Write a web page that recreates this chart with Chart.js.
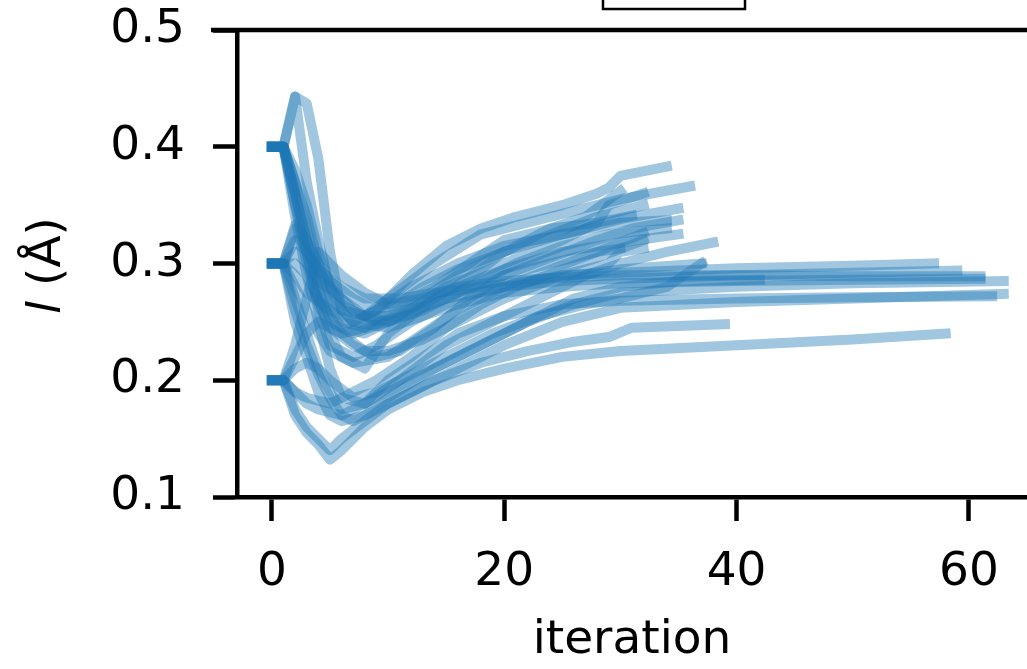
<!DOCTYPE html>
<html>
<head>
<meta charset="utf-8">
<script src="https://cdn.jsdelivr.net/npm/chart.js@4/dist/chart.umd.min.js"></script>
<style>
  html, body { margin: 0; padding: 0; background: #fff; }
  #wrap { width: 1027px; height: 669px; position: relative; }
</style>
</head>
<body>
<div id="wrap"><canvas id="c"></canvas></div>
<script>
// x tick labels and y tick labels
const xTicks = [0, 20, 40, 60];
const yTicks = [0.1, 0.2, 0.3, 0.4, 0.5];

// each run: [iteration, l] pairs
const run01 = [[0,.4],[1,.4],[2,.443],[3,.437],[4,.39],[5,.31],[6,.26],[7,.25],[9,.26],[12,.29],[15,.315],[18,.33],[21,.34],[25,.35],[28,.36],[29,.365],[30,.375],[34,.383]];
const run02 = [[0,.4],[1,.4],[2,.443],[3,.37],[4,.32],[5,.28],[6,.26],[8,.255],[10,.27],[14,.30],[18,.325],[22,.335],[26,.345],[30,.355],[36,.366]];
const run03 = [[0,.4],[1,.4],[2,.37],[3,.33],[4,.29],[5,.26],[6,.245],[8,.24],[10,.25],[13,.27],[16,.29],[20,.31],[24,.33],[27,.34],[30,.362]];
const run04 = [[0,.4],[1,.4],[2,.36],[3,.32],[4,.28],[6,.25],[8,.245],[11,.255],[15,.28],[20,.30],[25,.32],[28,.335],[29,.35],[32,.36]];
const run05 = [[0,.4],[1,.4],[2,.35],[3,.31],[4,.27],[5,.24],[6,.22],[8,.21],[10,.24],[14,.27],[18,.295],[20,.31],[25,.325],[30,.338],[35,.347]];
const run06 = [[0,.4],[1,.4],[2,.36],[3,.31],[4,.26],[5,.23],[7,.22],[9,.23],[12,.25],[16,.27],[20,.28],[25,.29],[30,.292],[40,.296],[50,.298],[57,.30]];
const run07 = [[0,.4],[1,.4],[3,.32],[4,.28],[5,.25],[7,.24],[10,.25],[15,.27],[20,.28],[25,.285],[30,.287],[40,.29],[50,.292],[59,.294]];
const run08 = [[0,.4],[1,.4],[2,.34],[3,.29],[4,.25],[5,.21],[6,.185],[8,.18],[10,.19],[14,.21],[18,.23],[22,.25],[26,.27],[30,.28],[35,.285],[42,.286]];
const run09 = [[0,.4],[1,.4],[2,.37],[3,.34],[4,.30],[5,.27],[7,.25],[9,.26],[12,.28],[16,.30],[20,.315],[25,.325],[30,.335],[34,.337]];
const run10 = [[0,.3],[1,.3],[2,.333],[3,.32],[4,.30],[5,.285],[7,.27],[9,.26],[11,.265],[14,.28],[17,.30],[20,.32],[24,.33],[28,.335],[31,.341]];
const run11 = [[0,.3],[1,.3],[2,.33],[3,.31],[5,.28],[7,.26],[9,.25],[12,.26],[15,.27],[18,.285],[21,.30],[25,.315],[29,.325],[34,.33]];
const run12 = [[0,.3],[1,.3],[2,.28],[3,.26],[4,.24],[5,.225],[7,.215],[10,.22],[13,.24],[16,.26],[20,.28],[24,.295],[28,.31],[32,.326]];
const run13 = [[0,.3],[1,.3],[2,.27],[3,.24],[4,.21],[5,.19],[6,.175],[8,.18],[11,.20],[15,.23],[19,.25],[23,.27],[27,.29],[30,.30],[34,.31],[38,.318]];
const run14 = [[0,.3],[1,.3],[2,.31],[3,.30],[4,.285],[6,.27],[8,.255],[10,.25],[13,.26],[16,.275],[20,.29],[24,.30],[28,.31],[30,.313]];
const run15 = [[0,.3],[1,.3],[2,.26],[3,.23],[4,.205],[5,.185],[6,.17],[7,.165],[9,.175],[12,.19],[16,.21],[20,.23],[25,.25],[30,.262],[40,.267],[50,.27],[63,.274]];
const run16 = [[0,.3],[1,.3],[2,.29],[3,.275],[5,.26],[7,.25],[10,.245],[13,.255],[16,.265],[20,.275],[25,.28],[30,.283],[40,.285],[50,.286],[61,.287]];
const run17 = [[0,.3],[1,.3],[2,.32],[3,.31],[4,.295],[6,.28],[8,.27],[11,.27],[14,.275],[18,.28],[22,.285],[26,.29],[30,.295],[37,.30]];
const run18 = [[0,.3],[1,.3],[2,.25],[3,.22],[4,.19],[5,.17],[6,.165],[8,.17],[10,.185],[14,.21],[18,.23],[22,.25],[26,.265],[30,.275],[40,.28],[50,.283],[63,.285]];
const run19 = [[0,.2],[1,.2],[2,.23],[3,.27],[4,.31],[5,.30],[6,.29],[8,.275],[10,.265],[13,.27],[16,.28],[20,.285],[25,.288],[30,.29],[40,.29],[50,.289],[61,.289]];
const run20 = [[0,.2],[1,.2],[2,.17],[3,.155],[4,.145],[5,.132],[6,.14],[8,.16],[10,.175],[13,.19],[16,.20],[20,.21],[25,.22],[30,.225],[40,.23],[50,.235],[58,.24]];
const run21 = [[0,.2],[1,.2],[2,.175],[3,.16],[5,.14],[6,.15],[8,.165],[10,.18],[14,.20],[18,.215],[22,.225],[26,.233],[29,.237],[31,.245],[39,.248]];
const run22 = [[0,.2],[1,.2],[2,.19],[3,.18],[4,.175],[6,.17],[8,.18],[10,.20],[13,.22],[16,.24],[20,.255],[25,.265],[30,.268],[40,.27],[50,.271],[62,.272]];
const run23 = [[0,.2],[1,.2],[2,.19],[3,.185],[5,.18],[7,.19],[9,.20],[12,.22],[15,.245],[18,.265],[21,.28],[25,.295],[28,.305],[32,.32]];
const run24 = [[0,.2],[1,.2],[2,.22],[3,.24],[4,.25],[5,.245],[7,.23],[9,.22],[11,.225],[14,.245],[17,.27],[20,.29],[24,.305],[28,.32],[31,.33],[35,.337]];
const run25 = [[0,.4],[1,.4],[2,.38],[3,.35],[4,.31],[5,.28],[6,.265],[8,.255],[10,.255],[13,.265],[16,.28],[20,.295],[25,.31],[30,.318],[35,.325]];
const run26 = [[0,.3],[1,.3],[2,.30],[3,.29],[4,.27],[6,.24],[8,.225],[10,.225],[13,.235],[16,.25],[20,.27],[25,.29],[29,.30],[30,.31],[32,.313]];
const run27 = [[0,.2],[1,.2],[2,.21],[3,.215],[4,.21],[5,.20],[7,.185],[9,.19],[12,.205],[15,.22],[19,.24],[23,.255],[27,.265],[30,.27],[34,.28],[37,.30]];
const run28 = [[0,.4],[1,.4],[2,.35],[3,.30],[4,.265],[5,.245],[6,.24],[8,.245],[10,.26],[13,.28],[16,.295],[20,.31],[24,.325],[28,.34],[32,.35]];

const runs = [run01, run02, run03, run04, run05, run06, run07, run08, run09, run10, run11, run12, run13, run14,
  run15, run16, run17, run18, run19, run20, run21, run22, run23, run24, run25, run26, run27, run28];

const lineColor = 'rgba(31,119,180,0.42)';
const fontFam = "'DejaVu Sans', sans-serif";

const datasets = runs.map((r) => ({
  data: r.map((p) => ({ x: p[0], y: p[1] })),
  borderColor: lineColor,
  borderWidth: 10,
  borderCapStyle: 'square',
  borderJoinStyle: 'round',
  pointRadius: 0,
  fill: false,
  tension: 0
}));

// top spine, y label with italic l, and the clipped box above the axes
const extras = {
  id: 'extras',
  afterDraw(chart) {
    const ctx = chart.ctx;
    const a = chart.chartArea;
    ctx.save();
    ctx.strokeStyle = '#000';
    ctx.lineWidth = 4.5;
    ctx.beginPath();
    ctx.moveTo(a.left - 26, a.top);
    ctx.lineTo(chart.width, a.top);
    ctx.stroke();

    ctx.lineWidth = 2.5;
    ctx.strokeRect(603, -10, 142, 19);

    // y label
    ctx.translate(48, (a.top + a.bottom) / 2 + 2);
    ctx.rotate(-Math.PI / 2);
    ctx.fillStyle = '#000';
    ctx.textBaseline = 'middle';
    ctx.font = 'italic 47px ' + fontFam;
    const w1 = ctx.measureText('l').width;
    ctx.font = '47px ' + fontFam;
    const w2 = ctx.measureText(' (Å)').width;
    let x0 = -(w1 + w2) / 2;
    ctx.font = 'italic 47px ' + fontFam;
    ctx.textAlign = 'left';
    ctx.fillText('l', x0, 0);
    ctx.font = '47px ' + fontFam;
    ctx.fillText(' (Å)', x0 + w1, 0);
    ctx.restore();
  }
};

new Chart(document.getElementById('c'), {
  type: 'line',
  data: { datasets },
  plugins: [extras],
  options: {
    responsive: true,
    maintainAspectRatio: false,
    animation: false,
    layout: { padding: { top: 30, right: 0, left: 0, bottom: 0 } },
    plugins: { legend: { display: false }, tooltip: { enabled: false } },
    scales: {
      x: {
        type: 'linear',
        min: -3,
        max: 65,
        afterBuildTicks: (s) => { s.ticks = xTicks.map((v) => ({ value: v })); },
        afterFit: (s) => { s.height = 172; s.paddingLeft = 0; s.paddingRight = 0; },
        grid: { drawOnChartArea: false, drawTicks: true, tickLength: 24, tickWidth: 4.5, tickColor: '#000' },
        border: { display: true, color: '#000', width: 4.5 },
        ticks: { color: '#000', padding: 24, font: { family: fontFam, size: 47 }, maxRotation: 0 },
        title: { display: true, text: 'iteration', color: '#000', font: { family: fontFam, size: 47 }, padding: { top: 14, bottom: 0 } }
      },
      y: {
        type: 'linear',
        min: 0.1,
        max: 0.5,
        afterBuildTicks: (s) => { s.ticks = yTicks.map((v) => ({ value: v })); },
        afterFit: (s) => { s.width = 237; s.paddingTop = 0; s.paddingBottom = 0; },
        grid: { drawOnChartArea: false, drawTicks: true, tickLength: 24, tickWidth: 4.5, tickColor: '#000' },
        border: { display: true, color: '#000', width: 4.5 },
        ticks: { color: '#000', padding: 28, font: { family: fontFam, size: 47 }, callback: (v) => v.toFixed(1) }
      }
    }
  }
});
</script>
</body>
</html>
